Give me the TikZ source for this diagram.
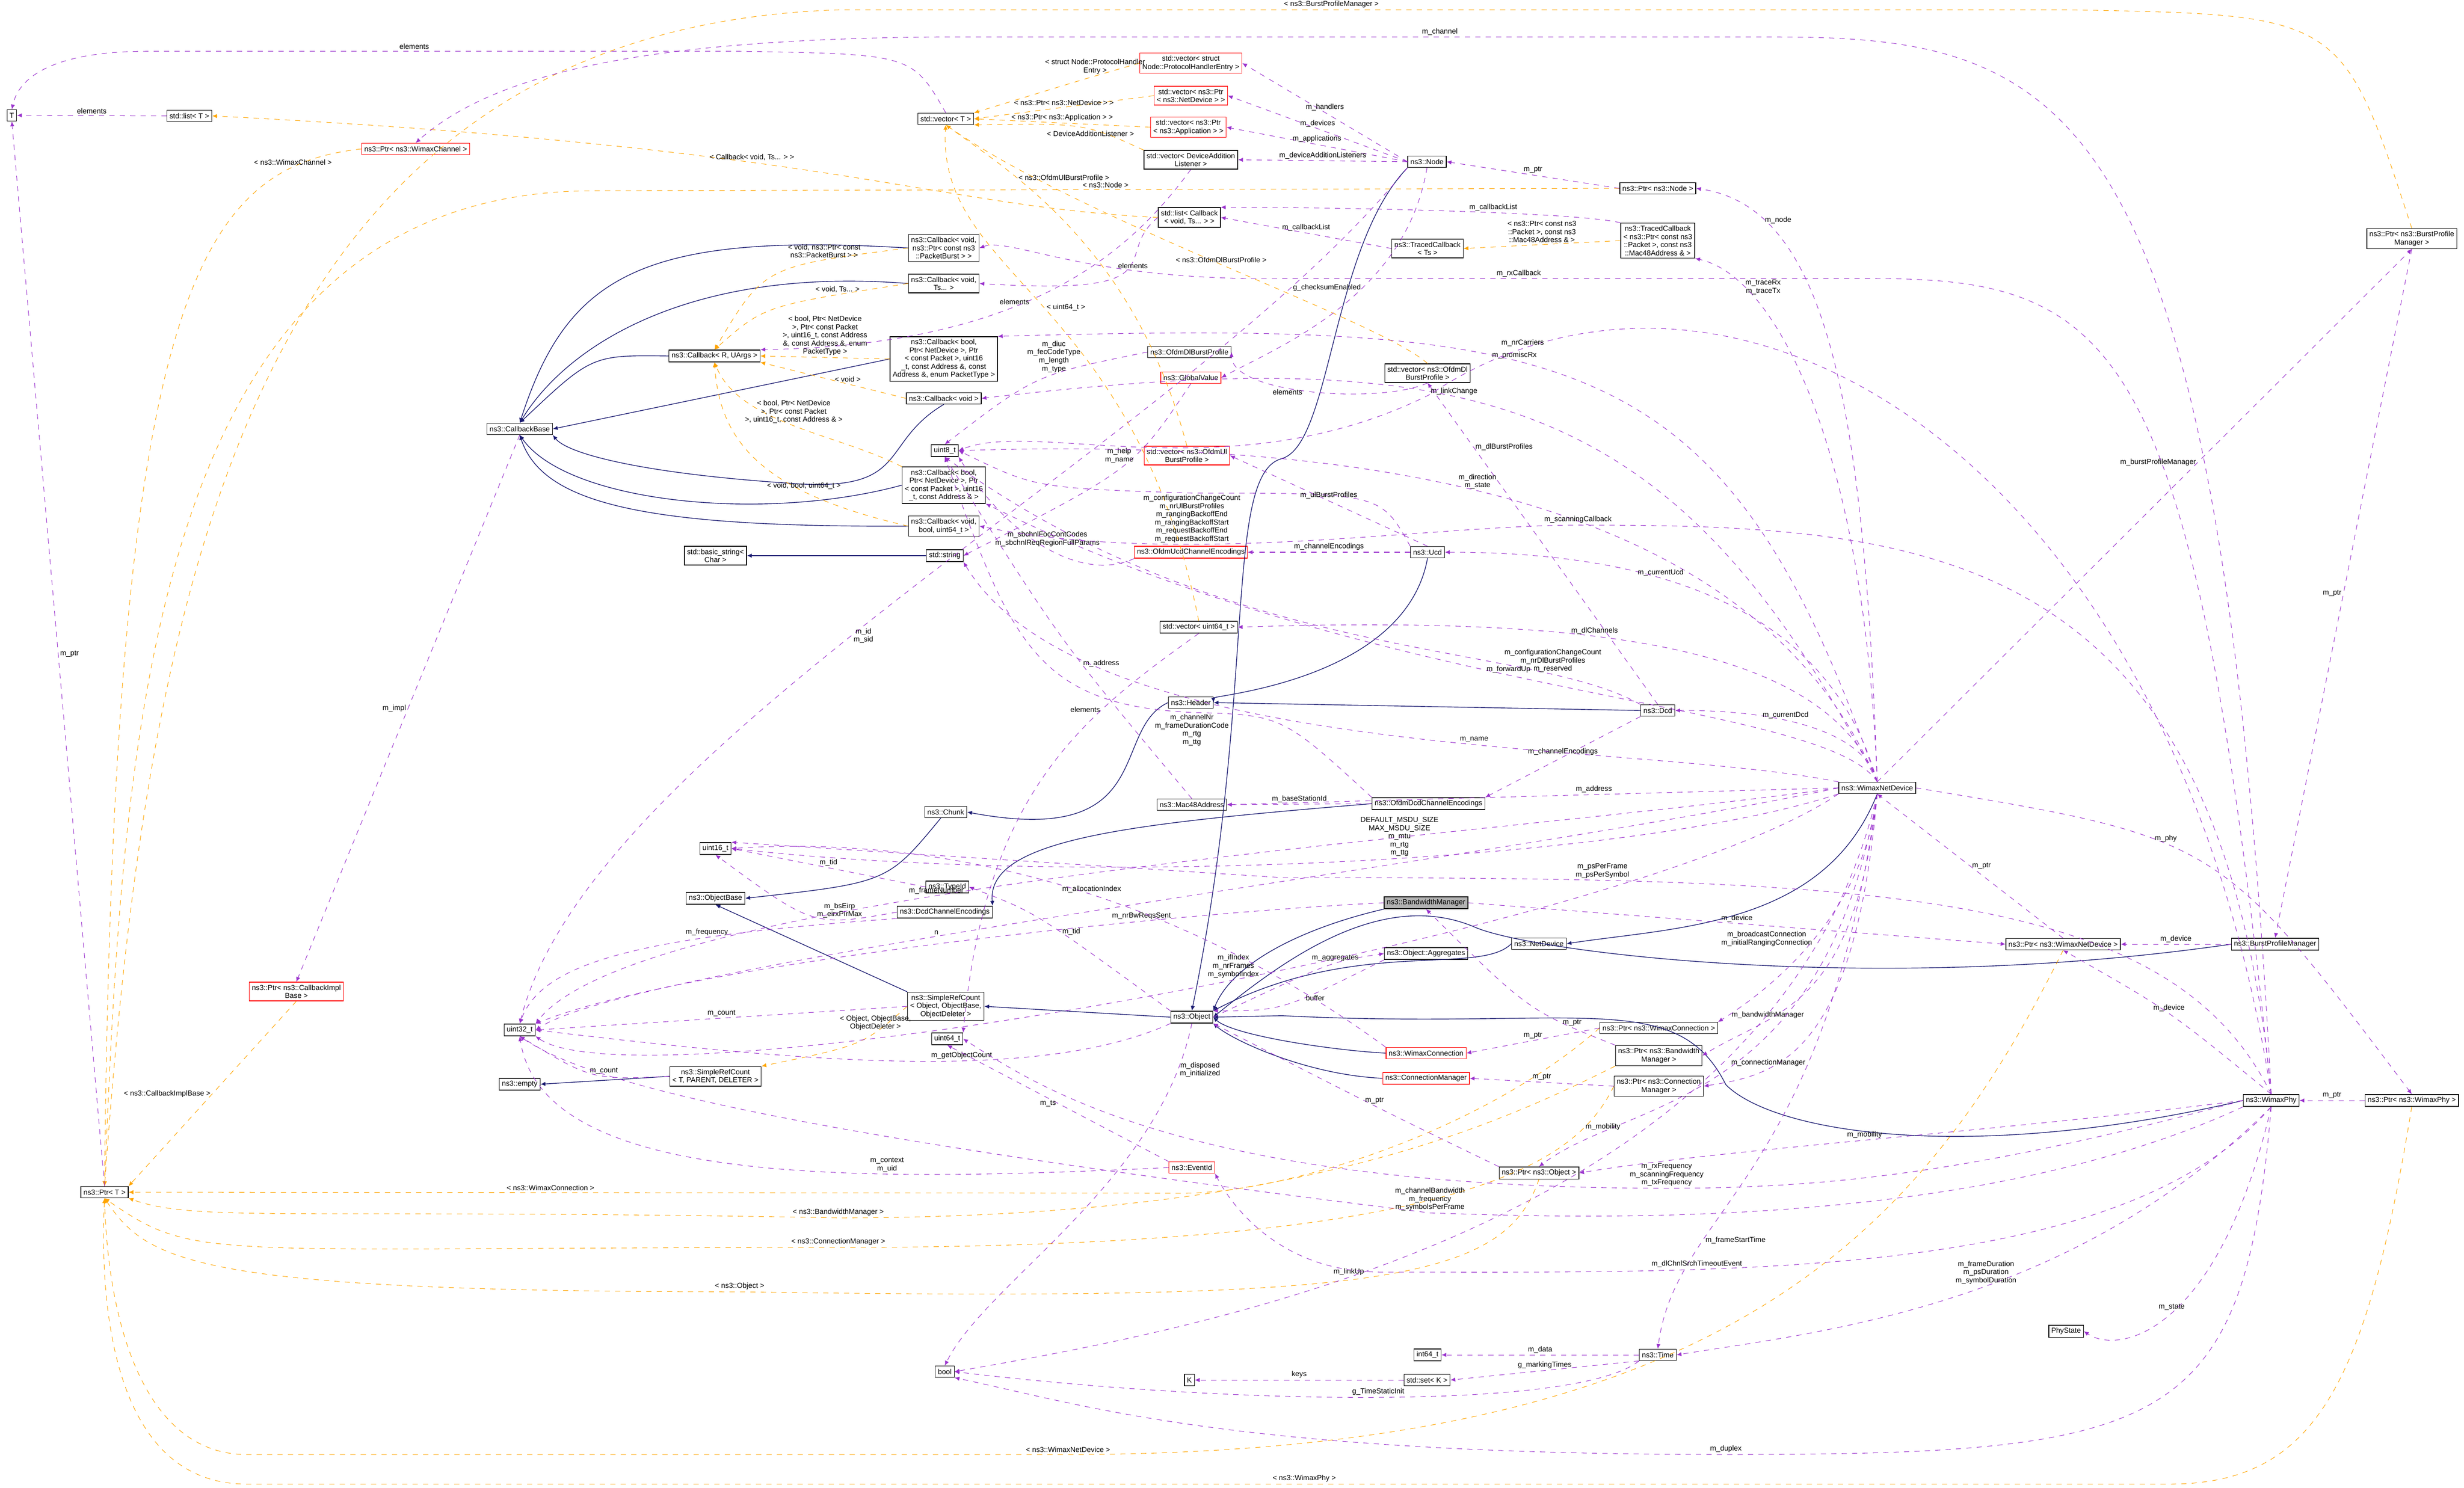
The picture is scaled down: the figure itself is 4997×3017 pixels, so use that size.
\documentclass[tikz,border=0pt]{standalone}
\usepackage{fontspec}
\setmainfont{Liberation Sans}
\usetikzlibrary{arrows.meta, positioning, calc}
\definecolor{usecol}{HTML}{9A32CD}
\definecolor{tplcol}{HTML}{FFA500}
\definecolor{inhcol}{HTML}{191970}
\tikzset{
  cls/.style={draw, thin, fill=white, inner sep=1.5pt, minimum height=0.23cm, align=center, font=\fontsize{4.2}{4.7}\selectfont},
  redcls/.style={cls, draw=red},
  focus/.style={cls, fill=gray!60},
  lbl/.style={font=\fontsize{4.2}{4.7}\selectfont, align=center, inner sep=1pt},
  usage/.style={draw=usecol, dashed, line width=0.3pt, -{Latex[length=2.8pt,width=2.4pt]}},
  tmpl/.style={draw=tplcol, dashed, line width=0.3pt, -{Latex[length=2.8pt,width=2.4pt]}},
  inherit/.style={draw=inhcol, line width=0.4pt, -{Latex[length=2.8pt,width=2.4pt]}}
}
\begin{document}
\begin{tikzpicture}[x=0.01cm, y=-0.01cm]
    \useasboundingbox (0,0) rectangle (4997,3017);
    % left column
    \node[cls] (T) at (24,234) {T};
    \node[cls] (listT) at (384,235) {std::list< T >};
    \node[redcls] (ptrChannel) at (843,302) {ns3::Ptr< ns3::WimaxChannel >};
    \node[redcls] (ptrImpl) at (601,2011) {ns3::Ptr< ns3::CallbackImpl\\Base >};
    \node[cls] (ptrT) at (212,2418) {ns3::Ptr< T >};
    % callbacks
    \node[cls] (cbBase) at (1054,870) {ns3::CallbackBase};
    \node[cls] (cbR) at (1449,722) {ns3::Callback< R, UArgs >};
    \node[cls] (cbBurst) at (1914,503) {ns3::Callback< void,\\ns3::Ptr< const ns3\\::PacketBurst > >};
    \node[cls] (cbVoidTs) at (1914,575) {ns3::Callback< void,\\Ts... >};
    \node[cls] (cbRecv) at (1914,728) {ns3::Callback< bool,\\Ptr< NetDevice >, Ptr\\< const Packet >, uint16\\\_t, const Address \&, const\\Address \&, enum PacketType >};
    \node[cls] (cbVoid) at (1914,808) {ns3::Callback< void >};
    \node[cls] (cbForward) at (1914,984) {ns3::Callback< bool,\\Ptr< NetDevice >, Ptr\\< const Packet >, uint16\\\_t, const Address \& >};
    \node[cls] (cbScan) at (1914,1067) {ns3::Callback< void,\\bool, uint64\_t >};
    \node[cls] (basicString) at (1451,1127) {std::basic\_string<\\Char >};
    \node[cls] (stdString) at (1916,1127) {std::string};
    \node[cls] (uint8) at (1916,914) {uint8\_t};
    % containers
    \node[cls] (vecT) at (1918,241) {std::vector< T >};
    \node[redcls] (vecHandler) at (2415,128) {std::vector< struct\\Node::ProtocolHandlerEntry >};
    \node[redcls] (vecNetDev) at (2415,194) {std::vector< ns3::Ptr\\< ns3::NetDevice > >};
    \node[redcls] (vecApp) at (2410,258) {std::vector< ns3::Ptr\\< ns3::Application > >};
    \node[cls] (vecListener) at (2415,324) {std::vector< DeviceAddition\\Listener >};
    \node[cls] (listCb) at (2412,441) {std::list< Callback\\< void, Ts... > >};
    \node[cls] (dlProfile) at (2412,714) {ns3::OfdmDlBurstProfile};
    \node[redcls] (globalValue) at (2415,766) {ns3::GlobalValue};
    \node[redcls] (vecUl) at (2407,924) {std::vector< ns3::OfdmUl\\BurstProfile >};
    \node[redcls] (ucdEnc) at (2415,1120) {ns3::OfdmUcdChannelEncodings};
    \node[cls] (vecU64) at (2431,1272) {std::vector< uint64\_t >};
    \node[cls] (header) at (2415,1425) {ns3::Header};
    % node and dcd / ucd
    \node[cls] (node) at (2894,328) {ns3::Node};
    \node[cls] (ptrNode) at (3362,382) {ns3::Ptr< ns3::Node >};
    \node[cls] (tracedTs) at (2895,504) {ns3::TracedCallback\\< Ts >};
    \node[cls] (tracedMac) at (3362,488) {ns3::TracedCallback\\< ns3::Ptr< const ns3\\::Packet >, const ns3\\::Mac48Address \& >};
    \node[cls] (vecDl) at (2895,757) {std::vector< ns3::OfdmDl\\BurstProfile >};
    \node[cls] (ucd) at (2895,1120) {ns3::Ucd};
    \node[cls] (dcd) at (3362,1441) {ns3::Dcd};
    \node[cls] (ptrBpm) at (4891,484) {ns3::Ptr< ns3::BurstProfile\\Manager >};
    % object hierarchy
    \node[cls] (chunk) at (1918,1647) {ns3::Chunk};
    \node[cls] (uint16) at (1451,1721) {uint16\_t};
    \node[cls] (objectBase) at (1451,1822) {ns3::ObjectBase};
    \node[cls] (typeId) at (1921,1799) {ns3::TypeId};
    \node[cls] (dcdEnc) at (1916,1850) {ns3::DcdChannelEncodings};
    \node[cls] (mac48) at (2417,1632) {ns3::Mac48Address};
    \node[cls] (srcObject) at (1918,2041) {ns3::SimpleRefCount\\< Object, ObjectBase,\\ObjectDeleter >};
    \node[cls] (uint32) at (1054,2089) {uint32\_t};
    \node[cls] (uint64) at (1921,2107) {uint64\_t};
    \node[cls] (object) at (2417,2063) {ns3::Object};
    \node[cls] (empty) at (1054,2199) {ns3::empty};
    \node[cls] (srcT) at (1451,2183) {ns3::SimpleRefCount\\< T, PARENT, DELETER >};
    \node[redcls] (eventId) at (2417,2368) {ns3::EventId};
    \node[cls] (boolN) at (1916,2782) {bool};
    \node[cls] (K) at (2412,2799) {K};
    % wimax classes
    \node[cls] (wimaxDevice) at (3807,1598) {ns3::WimaxNetDevice};
    \node[cls] (ofdmDcdEnc) at (2897,1630) {ns3::OfdmDcdChannelEncodings};
    \node[focus] (bwManager) at (2892,1831) {ns3::BandwidthManager};
    \node[cls] (aggregates) at (2892,1934) {ns3::Object::Aggregates};
    \node[cls] (netDevice) at (3121,1914) {ns3::NetDevice};
    \node[cls] (ptrDevice) at (4184,1915) {ns3::Ptr< ns3::WimaxNetDevice >};
    \node[cls] (bpm) at (4614,1915) {ns3::BurstProfileManager};
    \node[cls] (ptrConn) at (3364,2085) {ns3::Ptr< ns3::WimaxConnection >};
    \node[cls] (ptrBw) at (3364,2141) {ns3::Ptr< ns3::Bandwidth\\Manager >};
    \node[redcls] (wimaxConn) at (2892,2136) {ns3::WimaxConnection};
    \node[redcls] (connManager) at (2892,2187) {ns3::ConnectionManager};
    \node[cls] (ptrCm) at (3364,2203) {ns3::Ptr< ns3::Connection\\Manager >};
    \node[cls] (wimaxPhy) at (4606,2232) {ns3::WimaxPhy};
    \node[cls] (ptrPhy) at (4891,2232) {ns3::Ptr< ns3::WimaxPhy >};
    \node[cls] (ptrObject) at (3121,2379) {ns3::Ptr< ns3::Object >};
    \node[cls] (phyState) at (4190,2700) {PhyState};
    \node[cls] (int64) at (2895,2748) {int64\_t};
    \node[cls] (time) at (3362,2748) {ns3::Time};
    \node[cls] (setK) at (2894,2799) {std::set< K >};

    % inheritance
    \draw[inherit] (cbBurst.west) .. controls (1300,470) and (1150,560) .. (cbBase.north);
    \draw[inherit] (cbVoidTs.west) .. controls (1400,540) and (1150,700) .. (cbBase.north);
    \draw[inherit] (cbR.west) .. controls (1200,720) .. (cbBase.north);
    \draw[inherit] (cbRecv.west) -- (cbBase.east);
    \draw[inherit] (cbVoid.south) .. controls (1780,900) and (1850,1000) .. (1600,980) .. controls (1300,960) and (1150,920) .. (cbBase.south east);
    \draw[inherit] (cbForward.west) .. controls (1550,1060) and (1150,1020) .. (cbBase.south);
    \draw[inherit] (cbScan.west) .. controls (1300,1070) and (1100,1020) .. (cbBase.south);
    \draw[inherit] (stdString) -- (basicString);
    \draw[inherit] (header.west) .. controls (2250,1480) and (2350,1720) .. (chunk.east);
    \draw[inherit] (chunk) .. controls (1800,1790) .. (objectBase.east);
    \draw[inherit] (ucd.south) .. controls (2850,1380) and (2460,1410) .. (header.east);
    \draw[inherit] (dcd.west) -- (header.east);
    \draw[inherit] (ofdmDcdEnc.west) .. controls (2300,1670) and (2000,1700) .. (dcdEnc.north east);
    \draw[inherit] (srcObject.north west) -- (objectBase.south);
    \draw[inherit] (object.west) -- (srcObject.east);
    \draw[inherit] (srcT.west) -- (empty.east);
    \draw[inherit] (node.south west) .. controls (2700,500) and (2700,900) .. (2600,930) .. controls (2480,960) and (2550,1400) .. (object.north);
    \draw[inherit] (netDevice.west) .. controls (3000,1980) and (2750,1900) .. (object.north east);
    \draw[inherit] (wimaxDevice.south) .. controls (3700,1880) and (3400,1880) .. (netDevice.east);
    \draw[inherit] (bwManager.south west) .. controls (2650,1880) and (2500,1950) .. (object.north east);
    \draw[inherit] (wimaxConn.west) .. controls (2700,2130) and (2500,2100) .. (object.east);
    \draw[inherit] (connManager.west) .. controls (2650,2180) and (2500,2110) .. (object.south east);
    \draw[inherit] (bpm.west) .. controls (3800,2020) and (3100,1930) .. (2990,1880) .. controls (2800,1800) and (2600,1950) .. (object.east);
    \draw[inherit] (wimaxPhy.west) .. controls (4000,2360) and (3600,2300) .. (3500,2200) .. controls (3400,2000) and (3200,2090) .. (2600,2060) -- (object.east);

    % template instances
    \draw[tmpl] (vecHandler.west) .. controls (2200,160) .. (vecT.north east) node[lbl, pos=0.35, above] {< struct Node::ProtocolHandler\\Entry >};
    \draw[tmpl] (vecNetDev.west) -- (vecT.east) node[lbl, midway, above] {< ns3::Ptr< ns3::NetDevice > >};
    \draw[tmpl] (vecApp.west) -- (vecT.east) node[lbl, midway, above] {< ns3::Ptr< ns3::Application > >};
    \draw[tmpl] (vecListener.north west) .. controls (2200,250) .. (vecT.south east) node[lbl, pos=0.4, below] {< DeviceAdditionListener >};
    \draw[tmpl] (vecUl.north) .. controls (2300,500) and (2050,350) .. (vecT.south) node[lbl, pos=0.7, right] {< ns3::OfdmUlBurstProfile >};
    \draw[tmpl] (vecDl.north) .. controls (2800,650) and (2200,450) .. (vecT.south) node[lbl, pos=0.5, above] {< ns3::OfdmDlBurstProfile >};
    \draw[tmpl] (vecU64.north) .. controls (2300,600) and (1900,560) .. (vecT.south) node[lbl, pos=0.5, right] {< uint64\_t >};
    \draw[tmpl] (listCb.west) .. controls (1900,420) and (1700,300) .. (listT.east) node[lbl, pos=0.6, above] {< Callback< void, Ts... > >};
    \draw[tmpl] (cbBurst.west) .. controls (1550,540) .. (cbR.north) node[lbl, pos=0.25, above] {< void, ns3::Ptr< const\\ns3::PacketBurst > >};
    \draw[tmpl] (cbVoidTs.west) .. controls (1550,620) .. (cbR.north) node[lbl, pos=0.2, above] {< void, Ts... >};
    \draw[tmpl] (cbRecv.west) -- (cbR.east) node[lbl, midway, above] {< bool, Ptr< NetDevice\\>, Ptr< const Packet\\>, uint16\_t, const Address\\\&, const Address \&, enum\\PacketType >};
    \draw[tmpl] (cbVoid.west) -- (cbR.south east) node[lbl, pos=0.4, above] {< void >};
    \draw[tmpl] (cbForward.north west) .. controls (1700,880) and (1500,860) .. (cbR.south) node[lbl, pos=0.5, above] {< bool, Ptr< NetDevice\\>, Ptr< const Packet\\>, uint16\_t, const Address \& >};
    \draw[tmpl] (cbScan.west) .. controls (1550,1000) and (1460,900) .. (cbR.south) node[lbl, pos=0.3, above] {< void, bool, uint64\_t >};
    \draw[tmpl] (tracedMac.west) -- (tracedTs.east) node[lbl, midway, above] {< ns3::Ptr< const ns3\\::Packet >, const ns3\\::Mac48Address \& >};
    \draw[tmpl] (srcObject.west) .. controls (1750,2120) .. (srcT.north east) node[lbl, pos=0.3, above] {< Object, ObjectBase,\\ObjectDeleter >};
    \draw[tmpl] (ptrChannel.west) .. controls (400,340) and (230,600) .. (ptrT.north) node[lbl, pos=0.15, above] {< ns3::WimaxChannel >};
    \draw[tmpl] (ptrNode.west) -- node[lbl, above] {< ns3::Node >} (1200,387) .. controls (300,390) and (250,1500) .. (ptrT.north);
    \draw[tmpl] (ptrImpl.south) -- (ptrT.north east) node[lbl, midway, left] {< ns3::CallbackImplBase >};
    \draw[tmpl] (ptrBpm.north) .. controls (4750,30) .. (4200,20) -- node[lbl, pos=0.6, above] {< ns3::BurstProfileManager >} (1700,20) .. controls (500,60) and (300,1200) .. (ptrT.north);
    \draw[tmpl] (ptrConn.west) .. controls (3000,2300) and (2600,2420) .. (2400,2420) -- node[lbl, pos=0.6, above] {< ns3::WimaxConnection >} (ptrT.east);
    \draw[tmpl] (ptrBw.south west) .. controls (3000,2300) and (2600,2470) .. (1700,2470) node[lbl, pos=1, above] {< ns3::BandwidthManager >} .. controls (600,2450) and (400,2480) .. (ptrT.south east);
    \draw[tmpl] (ptrCm.west) .. controls (3200,2350) and (3000,2530) .. (1700,2530) node[lbl, pos=1, above] {< ns3::ConnectionManager >} .. controls (400,2530) and (400,2560) .. (ptrT.south);
    \draw[tmpl] (ptrObject.south) .. controls (3050,2600) and (2800,2640) .. (1500,2620) node[lbl, pos=1, above] {< ns3::Object >} .. controls (400,2620) and (300,2560) .. (ptrT.south);
    \draw[tmpl] (ptrDevice.south) .. controls (3900,2500) and (3500,2940) .. (2200,2950) -- (500,2950) .. controls (300,2950) and (220,2700) .. (ptrT.south);
    \node[lbl] (lblDevice) at (2166,2940) {< ns3::WimaxNetDevice >};
    \draw[tmpl] (ptrPhy.south) .. controls (4800,2800) and (4700,3010) .. (4400,3010) -- node[lbl, pos=0.45, above] {< ns3::WimaxPhy >} (500,3010) .. controls (250,3010) and (200,2700) .. (ptrT.south);

    % members
    \draw[usage] (vecT.north) .. controls (1850,110) .. (1500,104) -- node[lbl, pos=0.55, above] {elements} (300,104) .. controls (120,104) and (40,150) .. (T.north);
    \draw[usage] (listT.west) -- (T.east) node[lbl, midway, above] {elements};
    \draw[usage] (ptrT.north) -- (T.south) node[lbl, midway, right] {m\_ptr};
    \draw[usage] (listCb.west) .. controls (2250,520) and (2400,600) .. (cbVoidTs.east) node[lbl, pos=0.4, below] {elements};
    \draw[usage] (vecListener.south) .. controls (2300,500) and (2100,700) .. (cbR.north east) node[lbl, pos=0.6, above] {elements};
    \draw[usage] (node.west) -- (vecHandler.east) node[lbl, midway, above] {m\_handlers};
    \draw[usage] (node.west) -- (vecNetDev.east) node[lbl, midway, above] {m\_devices};
    \draw[usage] (node.west) -- (vecApp.east) node[lbl, midway, above] {m\_applications};
    \draw[usage] (node.west) -- (vecListener.east) node[lbl, midway, above] {m\_deviceAdditionListeners};
    \draw[usage] (ptrNode.west) -- (node.east) node[lbl, midway, above] {m\_ptr};
    \draw[usage] (tracedTs.west) -- (listCb.east) node[lbl, midway, above] {m\_callbackList};
    \draw[usage] (tracedMac.north west) .. controls (3200,430) and (2700,420) .. (listCb.north east) node[lbl, pos=0.4, above] {m\_callbackList};
    \draw[usage] (node.south) .. controls (2850,600) and (2600,700) .. (globalValue.east) node[lbl, pos=0.4, left] {g\_checksumEnabled};
    \draw[usage] (globalValue.south) .. controls (2300,950) .. (stdString.east) node[lbl, pos=0.4, left] {m\_help\\m\_name};
    \draw[usage] (dlProfile.west) .. controls (2100,760) .. (uint8.north) node[lbl, pos=0.4, above] {m\_diuc\\m\_fecCodeType\\m\_length\\m\_type};
    \draw[usage] (vecDl.south) .. controls (2800,820) and (2500,800) .. (dlProfile.east) node[lbl, pos=0.6, below] {elements};
    \draw[usage] (ucd.north west) .. controls (2800,1000) .. (2417,1000) node[lbl, below] {m\_configurationChangeCount\\m\_nrUlBurstProfiles\\m\_rangingBackoffEnd\\m\_rangingBackoffStart\\m\_requestBackoffEnd\\m\_requestBackoffStart} .. controls (2100,990) .. (uint8.east);
    \draw[usage] (ucd.north) -- (vecUl.east) node[lbl, midway, above] {m\_ulBurstProfiles};
    \draw[usage] (ucd.west) -- (ucdEnc.east) node[lbl, midway, above] {m\_channelEncodings};
    \draw[usage] (ucdEnc.south west) .. controls (2200,1180) and (2050,1100) .. (uint8.south east) node[lbl, pos=0.5, above] {m\_sbchnlFocContCodes\\m\_sbchnlReqRegionFullParams};
    \draw[usage] (dcd.north west) .. controls (3100,1300) and (2500,1350) .. (uint8.south) node[lbl, pos=0.2, above] {m\_configurationChangeCount\\m\_nrDlBurstProfiles\\m\_reserved};
    \draw[usage] (dcd.north) -- (vecDl.south) node[lbl, pos=0.8, right] {m\_dlBurstProfiles};
    \draw[usage] (dcd.south west) -- (ofdmDcdEnc.north east) node[lbl, midway, above] {m\_channelEncodings};
    \draw[usage] (ofdmDcdEnc.west) -- (mac48.east) node[lbl, midway, above] {m\_baseStationId};
    \draw[usage] (ofdmDcdEnc.north west) .. controls (2600,1450) .. (2417,1445) node[lbl, below] {m\_channelNr\\m\_frameDurationCode\\m\_rtg\\m\_ttg} .. controls (2100,1430) and (2050,1300) .. (uint8.south);
    \draw[usage] (mac48.north) .. controls (2150,1300) .. (uint8.south) node[lbl, pos=0.4, right] {m\_address};
    \draw[usage] (dcdEnc.west) .. controls (1650,1880) .. (uint16.south) node[lbl, pos=0.3, above] {m\_bsEirp\\m\_eirxPIrMax};
    \draw[usage] (dcdEnc.south west) .. controls (1300,1900) and (1100,1950) .. (uint32.north) node[lbl, pos=0.3, above] {m\_frequency};
    \draw[usage] (typeId.west) -- (uint16.east) node[lbl, midway, above] {m\_tid};
    \draw[usage] (object.north west) .. controls (2100,1850) .. (typeId.east) node[lbl, pos=0.4, right] {m\_tid};
    \draw[usage] (srcObject.west) -- (uint32.east) node[lbl, midway, above] {m\_count};
    \draw[usage] (srcT.west) .. controls (1200,2190) .. (uint32.south) node[lbl, pos=0.4, above] {m\_count};
    \draw[usage] (object.south west) .. controls (2100,2200) and (1600,2150) .. (uint32.east) node[lbl, pos=0.4, above] {m\_getObjectCount};
    \draw[usage] (object.south) .. controls (2350,2400) and (2000,2600) .. (boolN.north) node[lbl, pos=0.1, right] {m\_disposed\\m\_initialized};
    \draw[usage] (object.east) .. controls (2700,1950) .. (aggregates.west) node[lbl, pos=0.6, above] {m\_aggregates};
    \draw[usage] (aggregates.south west) .. controls (2600,2050) .. (object.north east) node[lbl, pos=0.3, below] {buffer};
    \draw[usage] (eventId.north west) -- (uint64.south) node[lbl, midway, left] {m\_ts};
    \draw[usage] (eventId.west) .. controls (1700,2400) and (1100,2400) .. (uint32.south) node[lbl, pos=0.3, above] {m\_context\\m\_uid};
    \draw[usage] (cbBase.south) -- (ptrImpl.north) node[lbl, midway, left] {m\_impl};
    \draw[usage] (node.south west) .. controls (2400,900) and (1200,1500) .. (uint32.north) node[lbl, pos=0.55, right] {m\_id\\m\_sid};
    \draw[usage] (vecU64.south) .. controls (2200,1450) and (2000,1600) .. (uint64.north east) node[lbl, pos=0.3, left] {elements};
    \draw[usage] (ptrConn.west) -- (wimaxConn.east) node[lbl, midway, above] {m\_ptr};
    \draw[usage] (ptrCm.west) -- (connManager.east) node[lbl, midway, above] {m\_ptr};
    \draw[usage] (ptrBw.north west) .. controls (3100,2050) .. (bwManager.south) node[lbl, pos=0.2, above] {m\_ptr};
    \draw[usage] (ptrObject.north west) .. controls (2800,2250) .. (object.south east) node[lbl, pos=0.5, above] {m\_ptr};
    \draw[usage] (ptrDevice.north) -- (wimaxDevice.south) node[lbl, midway, right] {m\_ptr};
    \draw[usage] (ptrPhy.west) -- (wimaxPhy.east) node[lbl, midway, above] {m\_ptr};
    \draw[usage] (ptrBpm.south) -- (bpm.north) node[lbl, midway, left] {m\_ptr};
    \draw[usage] (bwManager.east) -- (ptrDevice.west) node[lbl, midway, above] {m\_device};
    \draw[usage] (bpm.west) -- (ptrDevice.east) node[lbl, midway, above] {m\_device};
    \draw[usage] (wimaxPhy.north) .. controls (4400,2050) .. (ptrDevice.south) node[lbl, midway, above] {m\_device};

    % wimax net device members
    \draw[usage] (wimaxDevice.north) .. controls (3780,800) and (3700,420) .. (ptrNode.east) node[lbl, pos=0.8, right] {m\_node};
    \draw[usage] (wimaxDevice.north) .. controls (3780,900) and (3600,560) .. (tracedMac.south east) node[lbl, pos=0.8, right] {m\_traceRx\\m\_traceTx};
    \draw[usage] (wimaxDevice.north) .. controls (3500,700) and (3200,650) .. (cbRecv.north east) node[lbl, pos=0.6, above] {m\_promiscRx};
    \draw[usage] (wimaxDevice.north) .. controls (3400,800) and (3000,690) .. (cbVoid.east) node[lbl, pos=0.6, above] {m\_linkChange};
    \draw[usage] (wimaxDevice.north) .. controls (3600,1100) and (3000,880) .. (uint8.east) node[lbl, pos=0.6, above] {m\_direction\\m\_state};
    \draw[usage] (wimaxDevice.north) .. controls (3700,1200) and (3300,1120) .. (ucd.east) node[lbl, pos=0.6, above] {m\_currentUcd};
    \draw[usage] (wimaxDevice.north) .. controls (3700,1300) and (3200,1250) .. (vecU64.east) node[lbl, pos=0.6, above] {m\_dlChannels};
    \draw[usage] (wimaxDevice.north) .. controls (3700,1420) and (2800,1420) .. (cbForward.south east) node[lbl, pos=0.55, above] {m\_forwardUp};
    \draw[usage] (wimaxDevice.north) .. controls (3780,1480) and (3600,1440) .. (dcd.east) node[lbl, pos=0.6, above] {m\_currentDcd};
    \draw[usage] (wimaxDevice.north) -- (ptrBpm.south) node[lbl, pos=0.6, left] {m\_burstProfileManager};
    \draw[usage] (wimaxDevice.north west) .. controls (3300,1500) and (2200,1550) .. (stdString.south east) node[lbl, pos=0.4, above] {m\_name};
    \draw[usage] (wimaxDevice.west) -- (mac48.east) node[lbl, pos=0.4, above] {m\_address};
    \draw[usage] (wimaxDevice.south west) .. controls (3300,1750) and (2200,1800) .. (uint16.east) node[lbl, pos=0.45, above] {DEFAULT\_MSDU\_SIZE\\MAX\_MSDU\_SIZE\\m\_mtu\\m\_rtg\\m\_ttg};
    \draw[usage] (wimaxDevice.south) .. controls (3780,1850) and (3600,2000) .. (ptrConn.north east) node[lbl, pos=0.5, left] {m\_broadcastConnection\\m\_initialRangingConnection};
    \draw[usage] (wimaxDevice.south) .. controls (3760,2050) and (3600,2050) .. (ptrBw.east) node[lbl, pos=0.7, above] {m\_bandwidthManager};
    \draw[usage] (wimaxDevice.south) .. controls (3760,2150) and (3600,2180) .. (ptrCm.east) node[lbl, pos=0.7, above] {m\_connectionManager};
    \draw[usage] (wimaxDevice.south) .. controls (3700,2250) and (3300,2230) .. (ptrObject.north) node[lbl, pos=0.8, above] {m\_mobility};
    \draw[usage] (wimaxDevice.south) .. controls (3700,2400) and (3400,2450) .. (time.north) node[lbl, pos=0.7, right] {m\_frameStartTime};
    \draw[usage] (wimaxDevice.south) .. controls (3600,2500) and (2400,2700) .. (boolN.east) node[lbl, pos=0.6, above] {m\_linkUp};
    \draw[usage] (wimaxDevice.east) .. controls (4500,1700) .. (ptrPhy.north) node[lbl, pos=0.4, above] {m\_phy};
    \draw[usage] (wimaxDevice.west) .. controls (3000,1700) and (1300,1800) .. (uint32.north east) node[lbl, pos=0.6, above] {m\_frameNumber};
    \draw[usage] (wimaxDevice.west) .. controls (3000,1750) and (1300,1950) .. (uint32.east) node[lbl, pos=0.6, above] {n};
    \draw[usage] (wimaxDevice.south west) .. controls (3300,1900) and (1300,2250) .. (uint32.south east) node[lbl, pos=0.45, above] {m\_ifIndex\\m\_nrFrames\\m\_symbolIndex};
    \draw[usage] (bwManager.west) .. controls (2400,1850) and (1400,1950) .. (uint32.north east) node[lbl, pos=0.3, above] {m\_nrBwReqsSent};
    \draw[usage] (wimaxConn.north west) .. controls (2300,1750) and (1800,1700) .. (uint16.east) node[lbl, pos=0.4, above] {m\_allocationIndex};

    % wimax phy members
    \draw[usage] (wimaxPhy.north) .. controls (4500,200) and (4200,75) .. (3600,75) -- node[lbl, pos=0.4, above] {m\_channel} (1900,75) .. controls (1300,80) and (1000,150) .. (ptrChannel.north);
    \draw[usage] (wimaxPhy.north) .. controls (4450,700) and (4300,565) .. (3800,565) -- node[lbl, pos=0.6, above] {m\_rxCallback} (2600,565) .. controls (2200,570) and (2050,480) .. (cbBurst.east);
    \draw[usage] (wimaxPhy.north) .. controls (4400,900) and (3500,400) .. (2900,800) node[lbl, pos=0.9, above] {m\_nrCarriers} .. controls (2500,1000) and (2100,850) .. (uint8.east);
    \draw[usage] (wimaxPhy.north) .. controls (4500,1100) and (3900,1065) .. (3200,1065) node[lbl, pos=1, above] {m\_scanningCallback} .. controls (2900,1065) and (2400,1150) .. (cbScan.east);
    \draw[usage] (wimaxPhy.north) .. controls (4400,1800) and (3800,1780) .. (2600,1780) node[lbl, pos=0.8, above] {m\_psPerFrame\\m\_psPerSymbol} -- (uint16.north east);
    \draw[usage] (wimaxPhy.west) .. controls (4000,2300) and (3500,2330) .. (ptrObject.east) node[lbl, pos=0.5, above] {m\_mobility};
    \draw[usage] (wimaxPhy.west) .. controls (4000,2380) and (3700,2410) .. (3380,2410) node[lbl, pos=1, above] {m\_rxFrequency\\m\_scanningFrequency\\m\_txFrequency} .. controls (2400,2410) and (2100,2200) .. (uint64.east);
    \draw[usage] (wimaxPhy.south west) .. controls (4000,2500) and (3200,2470) .. (2900,2460) node[lbl, pos=1, above] {m\_channelBandwidth\\m\_frequency\\m\_symbolsPerFrame} .. controls (1600,2300) and (1200,2200) .. (uint32.south);
    \draw[usage] (wimaxPhy.south) .. controls (4300,2600) and (3500,2580) .. (2800,2580) node[lbl, pos=0.7, above] {m\_dlChnlSrchTimeoutEvent} .. controls (2600,2580) and (2500,2450) .. (eventId.south east);
    \draw[usage] (wimaxPhy.south) .. controls (4200,2650) and (3700,2700) .. (time.east) node[lbl, pos=0.45, above] {m\_frameDuration\\m\_psDuration\\m\_symbolDuration};
    \draw[usage] (wimaxPhy.south) .. controls (4500,2700) and (4300,2750) .. (phyState.east) node[lbl, pos=0.5, above] {m\_state};
    \draw[usage] (wimaxPhy.south) .. controls (4550,2900) and (4400,2950) .. (3500,2950) node[lbl, pos=1, above] {m\_duplex} .. controls (2500,2950) and (2200,2850) .. (boolN.south east);

    % time members
    \draw[usage] (time.west) -- (int64.east) node[lbl, midway, above] {m\_data};
    \draw[usage] (time.south west) -- (setK.east) node[lbl, midway, above] {g\_markingTimes};
    \draw[usage] (time.south west) .. controls (3200,2860) and (2500,2850) .. (boolN.east) node[lbl, pos=0.5, above] {g\_TimeStaticInit};
    \draw[usage] (setK.west) -- (K.east) node[lbl, midway, above] {keys};
\end{tikzpicture}
\end{document}
